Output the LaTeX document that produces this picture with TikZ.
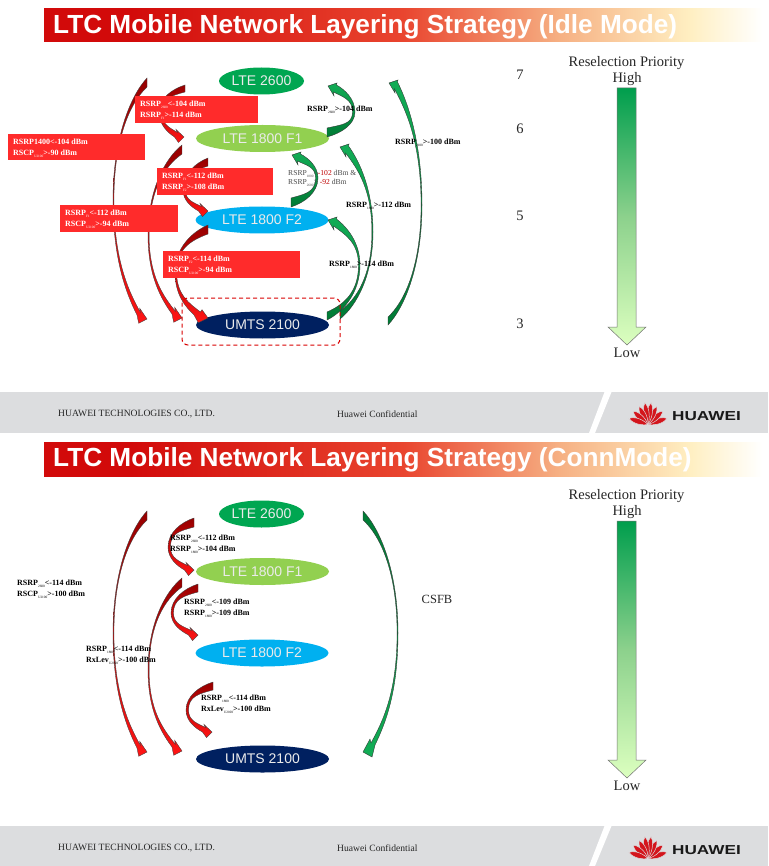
\documentclass[tikz,border=0pt]{standalone}
\usepackage{fontspec}
\setmainfont{Liberation Serif}
\newfontfamily\arialf{Liberation Sans}
\usetikzlibrary{shapes.geometric}
\definecolor{barA}{HTML}{D20A0A}
\definecolor{barB}{HTML}{E9452F}
\definecolor{barC}{HTML}{F6B184}
\definecolor{barD}{HTML}{FFEFC2}
\definecolor{footg}{HTML}{DCDDDF}
\definecolor{hwred}{HTML}{D3151C}
\definecolor{boxred}{HTML}{FF2B2B}
\definecolor{cgreen}{HTML}{00A651}
\definecolor{clime}{HTML}{92D050}
\definecolor{cblue}{HTML}{00B0F0}
\definecolor{cnavy}{HTML}{002060}
\definecolor{reddark}{HTML}{960000}
\definecolor{redmid}{HTML}{E00808}
\definecolor{redlight}{HTML}{FF1414}
\definecolor{grdark}{HTML}{007A35}
\definecolor{grlight}{HTML}{12AD56}
\pgfdeclarehorizontalshading{barshade}{100bp}{
  color(0bp)=(barA); color(25bp)=(barA); color(31bp)=(barA); color(50bp)=(barB);
  color(61bp)=(barC); color(70bp)=(barD); color(75bp)=(white); color(100bp)=(white)}
\tikzset{
  x=1pt,y=-1pt,
  netnode/.style={ellipse,minimum width=133pt,minimum height=27pt,inner sep=0pt,text=white!92!black,font=\arialf\fontsize{14}{14}\selectfont},
  redbox/.style={fill=boxred,draw=none,anchor=north west,inner sep=0pt},
  lab/.style={anchor=west,inner sep=0pt,align=left,font=\fontsize{8}{11}\selectfont\bfseries},
  whitelab/.style={lab,text=white},
  prio/.style={inner sep=0pt,text=black!85,font=\fontsize{14.5}{16}\selectfont},
  foot/.style={inner sep=0pt,anchor=west,text=black!85,font=\fontsize{9.6}{9.6}\selectfont},
  redarrow/.style={top color=reddark,middle color=redmid,bottom color=redlight,draw=black!75,line width=.35pt},
  grarrow/.style={top color=grlight,bottom color=grdark,draw=black!80,line width=.35pt},
  grdown/.style={top color=grdark,bottom color=grlight,draw=black!80,line width=.35pt},
  petal/.style={fill=hwred,draw=footg,line width=.5pt},
}
\newcommand\sbs[1]{\raisebox{-1.6pt}{\fontsize{3.4}{3}\selectfont\mdseries #1}}
% head offsets: outer wing, outer join, inner join, inner wing
\newcommand\headred{\def\owx{-8.3}\def\owy{4.3}\def\ojx{-10}\def\ojy{-4}\def\ijx{-6.7}\def\ijy{-6.7}\def\iwx{-7.3}\def\iwy{-10.7}}
\newcommand\headshort{\def\owx{-5.5}\def\owy{5.5}\def\ojx{-9.5}\def\ojy{0}\def\ijx{-6.5}\def\ijy{-4.5}\def\iwx{-8}\def\iwy{-7.5}}
\newcommand\headwide{\def\owx{-9.7}\def\owy{4.7}\def\ojx{-14}\def\ojy{-3}\def\ijx{-7.5}\def\ijy{-6}\def\iwx{-6}\def\iwy{-8.3}}
\newcommand\headgreen{\def\owx{9}\def\owy{-3}\def\ojx{8.5}\def\ojy{-1}\def\ijx{5.5}\def\ijy{6}\def\iwx{6}\def\iwy{10}}
\newcommand\headdown{\def\owx{9}\def\owy{5}\def\ojx{12}\def\ojy{-7}\def\ijx{8}\def\ijy{-9}\def\iwx{7}\def\iwy{-13}}
% #1 style, #2 name, #3 tail x, #4 tail y outer, #5 tail y inner, #6 bulge x, #7 mid y, #8 tip x, #9 tip y
\newcommand\crescent[9]{%
  \pgfmathsetmacro\cw{#3-#6}\pgfmathsetmacro\chA{#7-#4}\pgfmathsetmacro\chB{#9-#7}%
  \pgfmathsetmacro\cth{(\cw>0?1:-1)*(100/abs(#9-#4)+.5)}%
  \pgfmathsetmacro\oex{#8+\ojx}\pgfmathsetmacro\oey{#9+\ojy}%
  \pgfmathsetmacro\iex{#8+\ijx}\pgfmathsetmacro\iey{#9+\ijy}%
  \coordinate (#2-tail) at (#3,#4);\coordinate (#2-tip) at (#8,#9);%
  \path[#1] (#2-tail)
    .. controls ({#3-.5*\cw},{#4+.15*\chA}) and (#6,{#7-.5*\chA}) .. (#6,#7)
    .. controls (#6,{#7+.5*\chB}) and ({\oex-.45*(\oex-#6)},{\oey-.18*\chB}) .. (\oex,\oey)
    -- ({#8+\owx},{#9+\owy}) -- (#2-tip) -- ({#8+\iwx},{#9+\iwy}) -- (\iex,\iey)
    .. controls ({\iex-.45*(\iex-#6-\cth)},{\iey-.18*\chB}) and ({#6+\cth},{#7+.5*\chB}) .. ({#6+\cth},#7)
    .. controls ({#6+\cth},{#7-.5*\chA}) and ({#3-.5*\cw},{#5+.13*\chA}) .. (#3,#5) -- cycle;
}
\newcommand\logo[2]{%
 \begin{scope}[shift={(#1,#2)}]
  \foreach \a/\l in {-72/20,-48/20,-26/20,-8/22,8/22,26/20,48/20,72/20}{
   \begin{scope}[rotate=\a]
    \path[petal] (0,0) .. controls (-4.6,{-.45*\l}) and (-2.4,{-.85*\l}) .. (0,-\l)
       .. controls (2.4,{-.85*\l}) and (4.6,{-.45*\l}) .. (0,0) -- cycle;
   \end{scope}
  }
 \end{scope}}
\newcommand\titlebar[4]{% name, y, height, text
  \shade[shading=barshade] (44,#2) rectangle (762,{#2+#3});
  \node[inner sep=0pt,anchor=west,text=white,font=\arialf\bfseries\fontsize{26.2}{26}\selectfont] (#1) at (53,{#2+#3/2+1}) {#4};
}
\newcommand\footer[3]{% suffix, top, bottom
  \fill[footg] (0,#2) rectangle (768,#3);
  \fill[white] (604.5,#2) -- (611.5,#2) -- (595,#3) -- (589,#3) -- cycle;
  \logo{648}{{#2+32.5}}
  \node[foot] (co#1) at (58,{#2+22}) {HUAWEI TECHNOLOGIES CO., LTD.};
  \node[foot] (conf#1) at (337,{#2+22}) {Huawei Confidential};
  \node[inner sep=0pt,anchor=west,text=black!90,font=\arialf\bfseries\fontsize{13}{13}\selectfont] (hw#1) at (672,{#2+24}) {\scalebox{1.32}[1]{HUAWEI}};
}
\newcommand\priority[2]{% suffix, y offset
  \begin{scope}[shift={(0,#2)}]
  \node[prio] (rp#1) at (626.5,63) {Reselection Priority};
  \node[prio] (hi#1) at (627,79.5) {High};
  \node[prio] (lo#1) at (627,353) {Low};
  \path[top color=cgreen!95!black,bottom color=green!55!yellow!25!white,middle color=green!60!black!45!white,draw=black!55,line width=.5pt]
    (617,88) -- (636,88) -- (636,327) -- (646,327) -- (627,345) -- (608,327) -- (617,327) -- cycle;
  \end{scope}
}
\begin{document}
\begin{tikzpicture}
\useasboundingbox (0,0) rectangle (768,866);
\fill[white] (0,0) rectangle (768,866);
% ---------- titles and footers
\titlebar{t1}{9}{33}{LTC Mobile Network Layering Strategy (Idle Mode)}
\titlebar{t2}{442}{34}{LTC Mobile Network Layering Strategy (ConnMode)}
\footer{a}{392}{433}
\footer{b}{826}{866}
\priority{a}{0}
\priority{b}{433}
\node[prio] (p7) at (520,75) {7};
\node[prio] (p6) at (520,129) {6};
\node[prio] (p5) at (520,216) {5};
\node[prio] (p3) at (520,324) {3};
% ---------- nodes, idle mode
\node[netnode,fill=cgreen,minimum width=85pt] (a2600) at (261.5,81) {LTE 2600};
\node[netnode,fill=clime] (af1) at (262.5,138.5) {LTE 1800 F1};
\node[netnode,fill=cblue] (af2) at (262,220) {LTE 1800 F2};
\node[netnode,fill=cnavy] (aumts) at (262.5,325) {UMTS 2100};
% ---------- arrows, idle mode
\headred
\crescent{redarrow}{r1}{147}{78}{87}{113}{200}{147}{319}
\crescent{redarrow}{r3}{182}{145}{154}{148}{235}{182}{318}
\headshort
\crescent{redarrow}{r2}{185}{85}{92}{159}{112}{184}{137}
\crescent{redarrow}{r4}{208}{158}{166}{183}{190}{208}{211}
\headwide
\crescent{redarrow}{r5}{208}{225}{234}{175}{272}{208}{318}
\headgreen
\crescent{grarrow}{g1}{327}{137}{128}{355}{112}{328}{86}
\crescent{grarrow}{g2}{291}{207}{198}{318}{178}{292}{155}
\crescent{grarrow}{g3}{327}{320}{312}{360}{265}{328}{220}
\crescent{grarrow}{g4}{340}{319}{311}{373}{232}{340}{147}
\crescent{grarrow}{g5}{388}{325}{317}{422}{205}{389}{83}
% ---------- dashed box
\node[draw=red!85!black,dash pattern=on 4pt off 3pt,line width=1pt,rounded corners=6pt,minimum width=158pt,minimum height=47pt,inner sep=0pt] (dbox) at (261,321.5) {};
% ---------- red boxes
\node[redbox,minimum width=123pt,minimum height=27pt] (ba) at (135,96) {};
\node[redbox,minimum width=137pt,minimum height=26pt] (bb) at (8,134) {};
\node[redbox,minimum width=116pt,minimum height=27pt] (bc) at (157,168) {};
\node[redbox,minimum width=118pt,minimum height=27pt] (bd) at (60,205) {};
\node[redbox,minimum width=137pt,minimum height=27pt] (be) at (163,251) {};
\node[whitelab] (la) at (140,110.5) {RSRP\sbs{2600}<-104 dBm\\RSRP\sbs{F1}>-114 dBm};
\node[whitelab] (lb) at (13,148.5) {RSRP1400<-104 dBm\\RSCP\sbs{U2100}>-90 dBm};
\node[whitelab] (lc) at (162,182) {RSRP\sbs{F1}<-112 dBm\\RSRP\sbs{F2}>-108 dBm};
\node[whitelab] (ld) at (65,219) {RSRP\sbs{F1}<-112 dBm\\RSCP\sbs{U2100}>-94 dBm};
\node[whitelab] (le) at (168,265) {RSRP\sbs{F2}<-114 dBm\\RSCP\sbs{U2100}>-94 dBm};
% ---------- green labels
\node[lab] (lg1) at (307,109.5) {RSRP\sbs{2600}>-104 dBm};
\node[lab] (lg5) at (395,142.5) {RSRP\sbs{2100}>-100 dBm};
\node[lab] (lg4) at (346,205.5) {RSRP\sbs{1800}>-112 dBm};
\node[lab] (lg3) at (329,264.5) {RSRP\sbs{1800}>-114 dBm};
\node[lab,font=\fontsize{7.6}{9}\selectfont,text=black!70] (lg2) at (288,178.5) {RSRP\sbs{1800}>{\color{red!75!black}-102} dBm \&\\RSRP\sbs{2600}> {\color{red!75!black}-92} dBm};
% ---------- nodes, connected mode
\node[netnode,fill=cgreen,minimum width=85pt] (b2600) at (261.5,514) {LTE 2600};
\node[netnode,fill=clime] (bf1) at (262.5,571.5) {LTE 1800 F1};
\node[netnode,fill=cblue] (bf2) at (262,653) {LTE 1800 F2};
\node[netnode,fill=cnavy] (bumts) at (262.5,759) {UMTS 2100};
% ---------- arrows, connected mode
\headred
\crescent{redarrow}{s1}{147}{511}{520}{113}{633}{147}{752}
\crescent{redarrow}{s3}{182}{578}{587}{148}{670}{182}{751}
\headshort
\crescent{redarrow}{s2}{194}{518}{527}{168}{547}{194}{570}
\crescent{redarrow}{s4}{198}{584}{592}{171}{613}{198}{635}
\crescent{redarrow}{s5}{213}{682}{690}{186}{710}{212}{732}
\headdown
\crescent{grdown}{s6}{363}{511}{520}{398}{633}{363}{752}
% ---------- labels, connected mode
\node[lab] (m1) at (170,544.5) {RSRP\sbs{2600}<-112 dBm\\RSRP\sbs{1800}>-104 dBm};
\node[lab] (m2) at (17,589.5) {RSRP\sbs{2600}<-114 dBm\\RSCP\sbs{U2100}>-100 dBm};
\node[lab] (m3) at (184,608.5) {RSRP\sbs{2600}<-109 dBm\\RSRP\sbs{1800}>-109 dBm};
\node[lab] (m4) at (86,655.5) {RSRP\sbs{1800}<-114 dBm\\RxLev\sbs{U2100}>-100 dBm};
\node[lab] (m5) at (201,704.5) {RSRP\sbs{1800}<-114 dBm\\RxLev\sbs{U2100}>-100 dBm};
\node[inner sep=0pt,text=black!85,font=\fontsize{12.5}{12.5}\selectfont] (csfb) at (437,599) {CSFB};
\end{tikzpicture}
\end{document}
